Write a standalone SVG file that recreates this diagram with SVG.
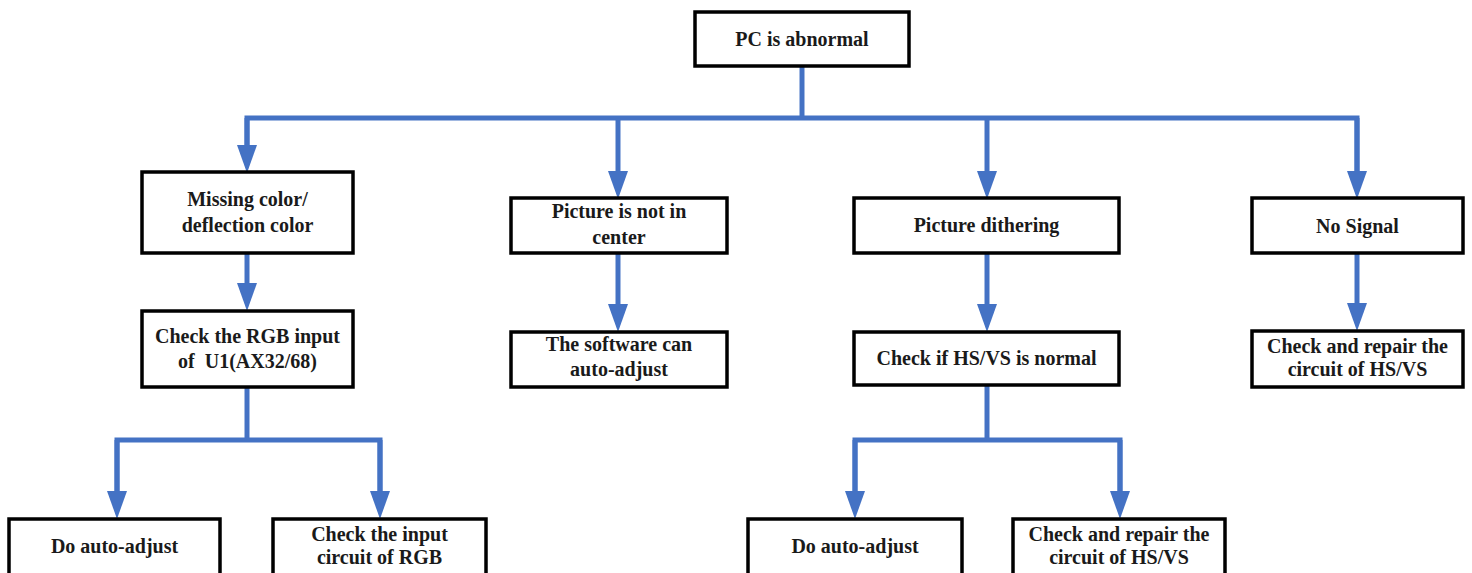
<svg xmlns="http://www.w3.org/2000/svg" width="1472" height="573" viewBox="0 0 1472 573">
<style>
.box{fill:#fff;stroke:#000;stroke-width:3.5}
.t{font-family:"Liberation Serif","Times New Roman",serif;font-weight:bold;font-size:20px;fill:#1a1a1a;text-anchor:middle}
.c{fill:none;stroke:#4472C4;stroke-width:5;stroke-linejoin:miter}
</style>
<defs>
<marker id="ah" markerUnits="userSpaceOnUse" markerWidth="28" markerHeight="20" viewBox="0 0 28 20" refX="0" refY="10" orient="auto">
<path d="M0,0 L28,10 L0,20 z" fill="#4472C4"/>
</marker>
</defs>
<rect width="1472" height="573" fill="#fff"/>
<g id="connectors">
<path class="c" d="M802,66 V118"/>
<path class="c" d="M247,145 V118 H1357 V171"/>
<path class="c" d="M247,118 V145" marker-end="url(#ah)"/>
<path class="c" d="M618,118 V171" marker-end="url(#ah)"/>
<path class="c" d="M987,118 V171" marker-end="url(#ah)"/>
<path class="c" d="M1357,118 V171" marker-end="url(#ah)"/>
<path class="c" d="M247,253 V283" marker-end="url(#ah)"/>
<path class="c" d="M618,253 V304" marker-end="url(#ah)"/>
<path class="c" d="M987,253 V304" marker-end="url(#ah)"/>
<path class="c" d="M1357,253 V303" marker-end="url(#ah)"/>
<path class="c" d="M247,387 V440"/>
<path class="c" d="M117,491 V440 H380 V491"/>
<path class="c" d="M117,440 V491" marker-end="url(#ah)"/>
<path class="c" d="M380,440 V491" marker-end="url(#ah)"/>
<path class="c" d="M987,385 V440"/>
<path class="c" d="M855,491 V440 H1120 V491"/>
<path class="c" d="M855,440 V491" marker-end="url(#ah)"/>
<path class="c" d="M1120,440 V491" marker-end="url(#ah)"/>
</g>
<g id="n_pc">
<rect class="box" x="695" y="12" width="214" height="54"/>
<text class="t" x="802" y="46">PC is abnormal</text>
</g>
<g id="n_missing">
<rect class="box" x="142" y="172" width="211" height="81"/>
<text class="t" x="247.5" y="206">Missing color/</text>
<text class="t" x="247.5" y="232">deflection color</text>
</g>
<g id="n_center">
<rect class="box" x="511" y="198" width="216" height="55"/>
<text class="t" x="619" y="218">Picture is not in</text>
<text class="t" x="619" y="244">center</text>
</g>
<g id="n_dither">
<rect class="box" x="854" y="198" width="265" height="55"/>
<text class="t" x="986.5" y="232">Picture dithering</text>
</g>
<g id="n_nosignal">
<rect class="box" x="1252" y="198" width="211" height="55"/>
<text class="t" x="1357.5" y="233">No Signal</text>
</g>
<g id="n_rgb">
<rect class="box" x="142" y="311" width="211" height="76"/>
<text class="t" x="247.5" y="343">Check the RGB input</text>
<text class="t" x="247.5" y="368" xml:space="preserve">of  U1(AX32/68)</text>
</g>
<g id="n_software">
<rect class="box" x="511" y="332" width="216" height="55"/>
<text class="t" x="619" y="351">The software can</text>
<text class="t" x="619" y="376">auto-adjust</text>
</g>
<g id="n_hsvs">
<rect class="box" x="854" y="332" width="265" height="53"/>
<text class="t" x="986.5" y="365">Check if HS/VS is normal</text>
</g>
<g id="n_repair1">
<rect class="box" x="1252" y="331" width="211" height="56"/>
<text class="t" x="1357.5" y="353">Check and repair the</text>
<text class="t" x="1357.5" y="376">circuit of HS/VS</text>
</g>
<g id="n_auto1">
<rect class="box" x="9" y="519" width="211" height="60"/>
<text class="t" x="114.5" y="553">Do auto-adjust</text>
</g>
<g id="n_input">
<rect class="box" x="273" y="519" width="213" height="60"/>
<text class="t" x="379.5" y="541">Check the input</text>
<text class="t" x="379.5" y="564">circuit of RGB</text>
</g>
<g id="n_auto2">
<rect class="box" x="748" y="519" width="214" height="60"/>
<text class="t" x="855" y="553">Do auto-adjust</text>
</g>
<g id="n_repair2">
<rect class="box" x="1013" y="519" width="212" height="60"/>
<text class="t" x="1119" y="541">Check and repair the</text>
<text class="t" x="1119" y="564">circuit of HS/VS</text>
</g>
</svg>
